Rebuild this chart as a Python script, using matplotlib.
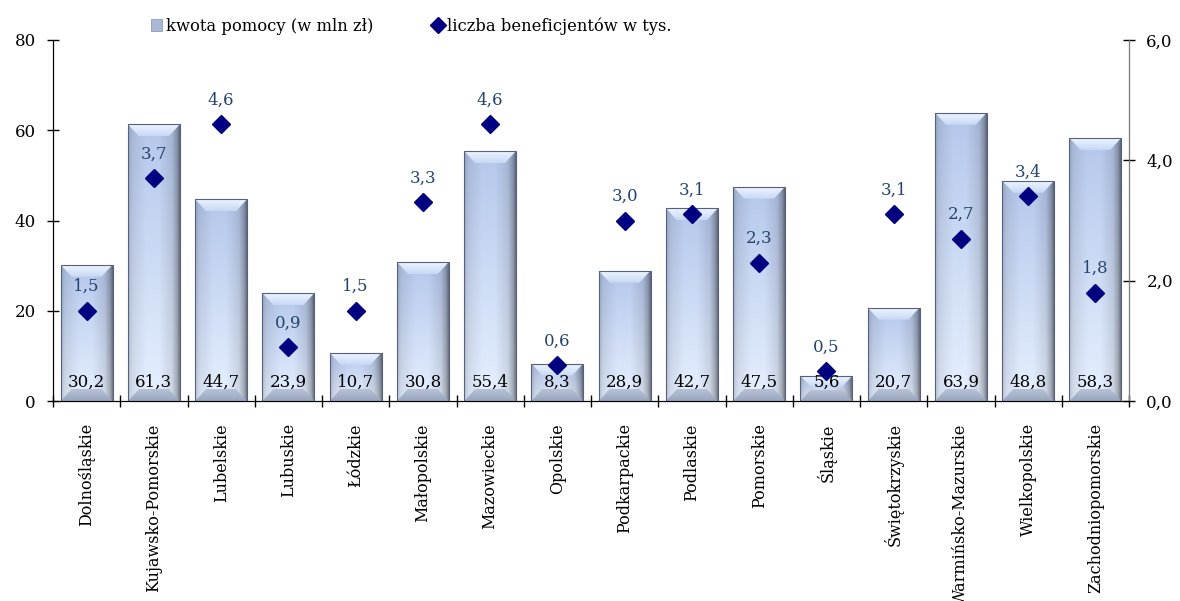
import numpy as np
import matplotlib
matplotlib.use("Agg")
import matplotlib.pyplot as plt
from matplotlib.patches import Polygon, Patch
from matplotlib.lines import Line2D
from matplotlib.ticker import FuncFormatter, FixedLocator

plt.rcParams['font.family'] = ['DejaVu Serif']

regions = ["Dolnośląskie", "Kujawsko-Pomorskie", "Lubelskie", "Lubuskie", "Łódzkie",
           "Małopolskie", "Mazowieckie", "Opolskie", "Podkarpackie", "Podlaskie",
           "Pomorskie", "Śląskie", "Świętokrzyskie", "Warmińsko-Mazurskie",
           "Wielkopolskie", "Zachodniopomorskie"]
kwota = [30.2, 61.3, 44.7, 23.9, 10.7, 30.8, 55.4, 8.3, 28.9, 42.7, 47.5, 5.6,
         20.7, 63.9, 48.8, 58.3]
beneficjenci = [1.5, 3.7, 4.6, 0.9, 1.5, 3.3, 4.6, 0.6, 3.0, 3.1, 2.3, 0.5,
                3.1, 2.7, 3.4, 1.8]
left_ticks = [0, 20, 40, 60, 80]
right_ticks = [0, 2, 4, 6]
legend_labels = ["kwota pomocy (w mln zł)", "liczba beneficjentów w tys."]

W, H = 1180, 601
fig = plt.figure(figsize=(W / 100, H / 100), dpi=100)
ax = fig.add_axes([53 / W, 1 - 401 / H, (1129 - 53) / W, (401 - 40) / H])
ax2 = ax.twinx()

n = len(regions)
x = np.arange(n)
bw = 0.77
ax.set_xlim(-0.5, n - 0.5)
ax.set_ylim(0, 80)
ax2.set_ylim(0, 6)

bars = ax.bar(x, kwota, width=bw, facecolor='none', edgecolor='#55617e', linewidth=0.8, zorder=3)

# gradient fill for bars
nx, ny = 60, 100
xs = np.linspace(0, 1, nx)
ys = np.linspace(0, 1, ny)[:, None]  # 0 = top, 1 = bottom
top_col = np.array([0.71, 0.78, 0.92])
bot_col = np.array([0.90, 0.94, 1.00])
base = top_col * (1 - ys[..., None]) + bot_col * ys[..., None]
shade = np.interp(xs, [0, 0.08, 0.35, 0.6, 0.85, 0.95, 1.0], [0.82, 0.92, 1.0, 1.0, 0.90, 0.72, 0.52])
img = np.clip(base * shade[None, :, None], 0, 1)

# top bevel gradient (light at top edge)
tb = np.linspace(0, 1, 30)[:, None, None]
top_img = np.clip(np.array([0.93, 0.96, 1.0]) * (1 - tb) + np.array([0.78, 0.85, 0.96]) * tb, 0, 1)
top_img = np.repeat(top_img, 4, axis=1)
bb = np.linspace(0, 1, 30)[:, None, None]
bot_img = np.clip(np.array([0.72, 0.76, 0.84]) * (1 - bb) + np.array([0.60, 0.65, 0.75]) * bb, 0, 1)
bot_img = np.repeat(bot_img, 4, axis=1)

px_x = n / (1129 - 53)     # data units per pixel in x
px_y = 80 / (401 - 40)     # data units per pixel in y
dx, dy = 11 * px_x, 12 * px_y
for b in bars:
    x0 = b.get_x(); x1 = x0 + b.get_width(); h = b.get_height()
    im = ax.imshow(img, extent=(x0, x1, 0, h), aspect='auto', zorder=2, interpolation='bilinear')
    im.set_clip_path(b)
    ddy = min(dy, h / 2.3)
    ddx = dx * ddy / dy
    top = Polygon([(x0, h), (x1, h), (x1 - ddx, h - ddy), (x0 + ddx, h - ddy)],
                  closed=True, facecolor='none', edgecolor='none', zorder=2.5)
    bot = Polygon([(x0, 0), (x1, 0), (x1 - ddx, ddy), (x0 + ddx, ddy)],
                  closed=True, facecolor='none', edgecolor='none', zorder=2.5)
    ax.add_patch(top); ax.add_patch(bot)
    it = ax.imshow(top_img, extent=(x0, x1, h - ddy, h), aspect='auto', zorder=2.6, interpolation='bilinear')
    it.set_clip_path(top)
    ib = ax.imshow(bot_img, extent=(x0, x1, 0, ddy), aspect='auto', zorder=2.6, interpolation='bilinear')
    ib.set_clip_path(bot)

ax.set_xlim(-0.5, n - 0.5)
ax.set_ylim(0, 80)

for xi, v in zip(x, kwota):
    ax.annotate(f"{v:.1f}".replace('.', ','), (xi, 0), xytext=(0, 10), textcoords='offset points',
                ha='center', va='baseline', fontsize=12, color='black', zorder=5)

ax2.plot(x, beneficjenci, linestyle='none', marker='D', markersize=9, color='#000080', zorder=5)
for xi, v in zip(x, beneficjenci):
    ax2.annotate(f"{v:.1f}".replace('.', ','), (xi, v), xytext=(0, 14), textcoords='offset points',
                 ha='center', va='baseline', fontsize=12, color='#24446f', zorder=6)

# axes styling
ax.set_yticks(left_ticks)
ax.yaxis.set_major_formatter(FuncFormatter(lambda v, p: f"{v:.0f}"))
ax2.set_yticks(right_ticks)
ax2.yaxis.set_major_formatter(FuncFormatter(lambda v, p: f"{v:.1f}".replace('.', ',')))
ax.tick_params(axis='y', direction='inout', length=9, width=1, labelsize=12, pad=8)
ax2.tick_params(axis='y', direction='inout', length=9, width=1, labelsize=12, pad=8, color='black')

ax.set_xticks(x)
ax.set_xticklabels(regions, rotation=90, fontsize=11.5, va='top', ha='center')
ax.tick_params(axis='x', which='major', length=0, pad=16)
ax.xaxis.set_minor_locator(FixedLocator(np.arange(-0.5, n, 1.0)))
ax.tick_params(axis='x', which='minor', direction='inout', length=9, width=1)

for s in ['top']:
    ax.spines[s].set_visible(False)
    ax2.spines[s].set_visible(False)
ax2.spines['right'].set_color('#808080')
ax2.spines['left'].set_color('black')
ax.spines['bottom'].set_color('black')

handles = [Patch(facecolor='#aab8d6', edgecolor='#8090b0', linewidth=0.5),
           Line2D([], [], linestyle='none', marker='D', markersize=8, color='#000080')]
fig.legend(handles, legend_labels, loc='center left', bbox_to_anchor=(151 / W, 1 - 26 / H),
           ncol=2, frameon=False, fontsize=11.8, handlelength=0.7, handleheight=0.7,
           handletextpad=0.2, columnspacing=3.6, borderpad=0, borderaxespad=0)

fig.savefig("out.png", dpi=100)
